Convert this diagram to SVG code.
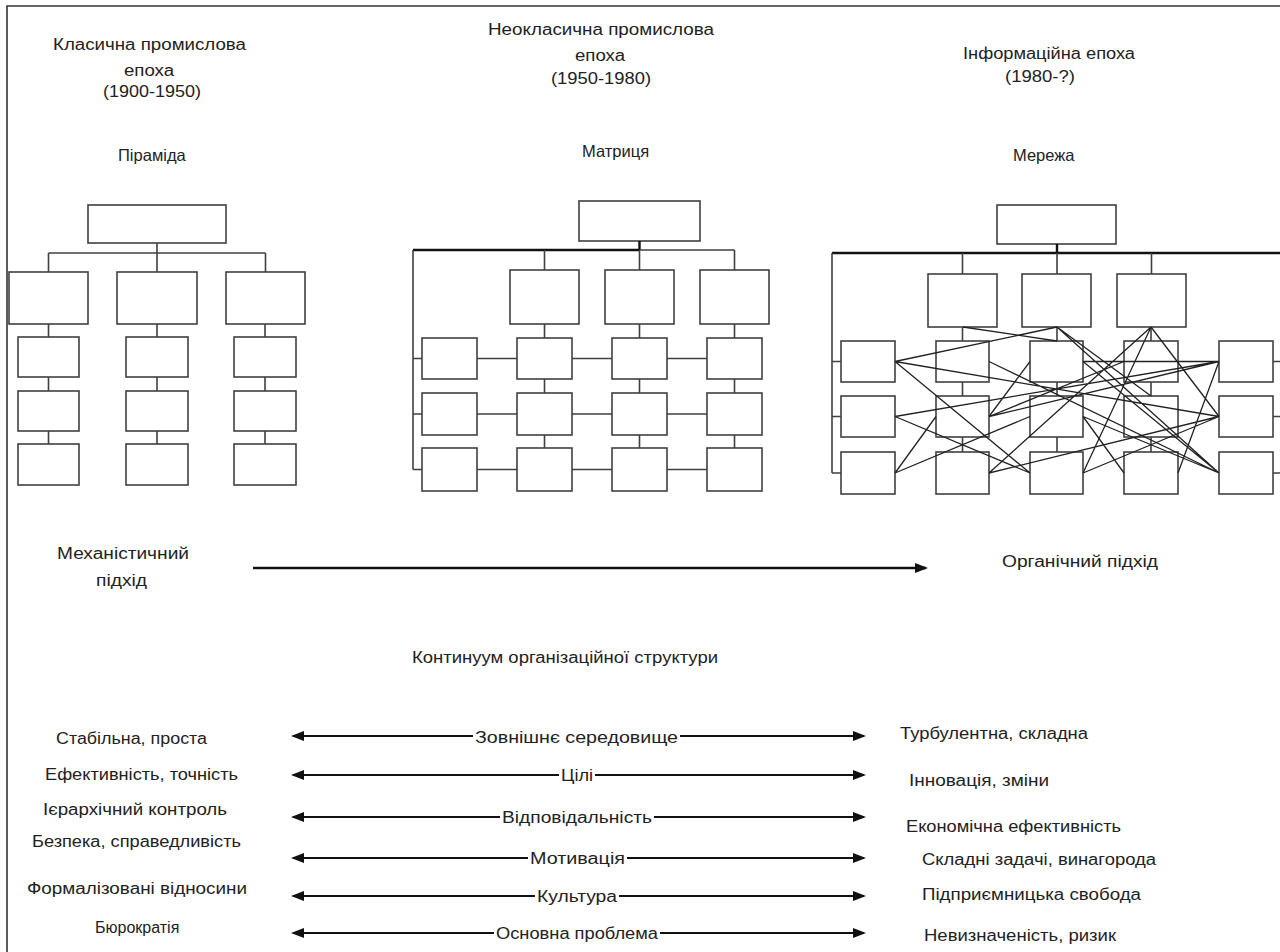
<svg xmlns="http://www.w3.org/2000/svg" width="1280" height="952" viewBox="0 0 1280 952">
<style>
.box{fill:#fff;stroke:#404040;stroke-width:1.6}
.ln{fill:none;stroke:#404040;stroke-width:1.6}
.thick{fill:none;stroke:#111;stroke-width:2.4}
.net{fill:none;stroke:#222;stroke-width:1.3}
.arr{fill:none;stroke:#111;stroke-width:2}
.frame{fill:none;stroke:#333;stroke-width:1.6}
text{font-family:"Liberation Sans",Arial,sans-serif;font-size:16px;fill:#222}
.sm{font-size:16.5px}
</style>
<defs>
<marker id="ah" markerUnits="userSpaceOnUse" viewBox="0 0 13 10" refX="11" refY="5" markerWidth="13" markerHeight="10" orient="auto">
<path d="M0,0 L13,5 L0,10 z" fill="#111"/>
</marker>
</defs>
<rect width="1280" height="952" fill="#fff"/>
<path class="frame" d="M7,960 V6 H1290"/>

<g id="labels">
<text x="53" y="49.5" textLength="193" lengthAdjust="spacingAndGlyphs">Класична промислова</text>
<text x="124" y="75.5" textLength="50" lengthAdjust="spacingAndGlyphs">епоха</text>
<text x="103" y="96.5" textLength="98" lengthAdjust="spacingAndGlyphs">(1900-1950)</text>
<text x="488" y="34.5" textLength="226" lengthAdjust="spacingAndGlyphs">Неокласична промислова</text>
<text x="575" y="60.5" textLength="50" lengthAdjust="spacingAndGlyphs">епоха</text>
<text x="551" y="83.5" textLength="100" lengthAdjust="spacingAndGlyphs">(1950-1980)</text>
<text x="963" y="58.5" textLength="172" lengthAdjust="spacingAndGlyphs">Інформаційна епоха</text>
<text x="1005" y="81.5" textLength="70" lengthAdjust="spacingAndGlyphs">(1980-?)</text>
<text class="sm" x="118" y="160.5">Піраміда</text>
<text class="sm" x="582" y="156.5">Матриця</text>
<text class="sm" x="1013" y="160.5">Мережа</text>
<text x="57" y="558.5" textLength="132" lengthAdjust="spacingAndGlyphs">Механістичний</text>
<text x="96" y="585.5" textLength="51" lengthAdjust="spacingAndGlyphs">підхід</text>
<text x="1002" y="566.5" textLength="156" lengthAdjust="spacingAndGlyphs">Органічний підхід</text>
<text x="412" y="662.5" textLength="306" lengthAdjust="spacingAndGlyphs">Континуум організаційної структури</text>
<text x="56" y="743.5" textLength="151" lengthAdjust="spacingAndGlyphs">Стабільна, проста</text>
<text x="45" y="779.5" textLength="193" lengthAdjust="spacingAndGlyphs">Ефективність, точність</text>
<text x="43" y="814.5" textLength="184" lengthAdjust="spacingAndGlyphs">Ієрархічний контроль</text>
<text x="32" y="846.5" textLength="209" lengthAdjust="spacingAndGlyphs">Безпека, справедливість</text>
<text x="27" y="893.5" textLength="220" lengthAdjust="spacingAndGlyphs">Формалізовані відносини</text>
<text x="95" y="932.5">Бюрократія</text>
<text x="900" y="738.5" textLength="188" lengthAdjust="spacingAndGlyphs">Турбулентна, складна</text>
<text x="909" y="785.5" textLength="140" lengthAdjust="spacingAndGlyphs">Інновація, зміни</text>
<text x="906" y="831.5" textLength="215" lengthAdjust="spacingAndGlyphs">Економічна ефективність</text>
<text x="922" y="864.5" textLength="234" lengthAdjust="spacingAndGlyphs">Складні задачі, винагорода</text>
<text x="922" y="899.5" textLength="219" lengthAdjust="spacingAndGlyphs">Підприємницька свобода</text>
<text x="924" y="940.5" textLength="192" lengthAdjust="spacingAndGlyphs">Невизначеність, ризик</text>
<text x="475" y="742.5" textLength="203" lengthAdjust="spacingAndGlyphs">Зовнішнє середовище</text>
<text x="561" y="780.5" textLength="32" lengthAdjust="spacingAndGlyphs">Цілі</text>
<text x="502" y="822.5" textLength="150" lengthAdjust="spacingAndGlyphs">Відповідальність</text>
<text x="530" y="863.5" textLength="95" lengthAdjust="spacingAndGlyphs">Мотивація</text>
<text x="537" y="901.5" textLength="80" lengthAdjust="spacingAndGlyphs">Культура</text>
<text x="496" y="938.5" textLength="162" lengthAdjust="spacingAndGlyphs">Основна проблема</text>
</g>

<!-- Pyramid nodes -->
<g id="pyramid">
<g id="p-top"><rect class="box" x="88" y="205" width="138" height="38"/></g>
<g id="p-a1"><rect class="box" x="9" y="272" width="79" height="52"/></g>
<g id="p-b1"><rect class="box" x="117" y="272" width="80" height="52"/></g>
<g id="p-c1"><rect class="box" x="226" y="272" width="79" height="52"/></g>
<g id="p-a2"><rect class="box" x="18" y="337" width="61" height="40"/></g>
<g id="p-b2"><rect class="box" x="126" y="337" width="62" height="40"/></g>
<g id="p-c2"><rect class="box" x="234" y="337" width="62" height="40"/></g>
<g id="p-a3"><rect class="box" x="18" y="391" width="61" height="40"/></g>
<g id="p-b3"><rect class="box" x="126" y="391" width="62" height="40"/></g>
<g id="p-c3"><rect class="box" x="234" y="391" width="62" height="40"/></g>
<g id="p-a4"><rect class="box" x="18" y="444" width="61" height="41"/></g>
<g id="p-b4"><rect class="box" x="126" y="444" width="62" height="41"/></g>
<g id="p-c4"><rect class="box" x="234" y="444" width="62" height="41"/></g>
</g>

<!-- Matrix nodes -->
<g id="matrix">
<g id="m-top"><rect class="box" x="579" y="201" width="121" height="40"/></g>
<g id="m-d1"><rect class="box" x="510" y="270" width="69" height="54"/></g>
<g id="m-d2"><rect class="box" x="605" y="270" width="69" height="54"/></g>
<g id="m-d3"><rect class="box" x="700" y="270" width="69" height="54"/></g>
<g id="m-r1c0"><rect class="box" x="422" y="338" width="55" height="41"/></g>
<g id="m-r1c1"><rect class="box" x="517" y="338" width="55" height="41"/></g>
<g id="m-r1c2"><rect class="box" x="612" y="338" width="55" height="41"/></g>
<g id="m-r1c3"><rect class="box" x="707" y="338" width="55" height="41"/></g>
<g id="m-r2c0"><rect class="box" x="422" y="393" width="55" height="42"/></g>
<g id="m-r2c1"><rect class="box" x="517" y="393" width="55" height="42"/></g>
<g id="m-r2c2"><rect class="box" x="612" y="393" width="55" height="42"/></g>
<g id="m-r2c3"><rect class="box" x="707" y="393" width="55" height="42"/></g>
<g id="m-r3c0"><rect class="box" x="422" y="448" width="55" height="43"/></g>
<g id="m-r3c1"><rect class="box" x="517" y="448" width="55" height="43"/></g>
<g id="m-r3c2"><rect class="box" x="612" y="448" width="55" height="43"/></g>
<g id="m-r3c3"><rect class="box" x="707" y="448" width="55" height="43"/></g>
</g>

<!-- Network nodes -->
<g id="network">
<g id="n-top"><rect class="box" x="997" y="205" width="119" height="39"/></g>
<g id="n-d1"><rect class="box" x="928" y="274" width="69" height="53"/></g>
<g id="n-d2"><rect class="box" x="1022" y="274" width="69" height="53"/></g>
<g id="n-d3"><rect class="box" x="1117" y="274" width="69" height="53"/></g>
<g id="n-r1c0"><rect class="box" x="841" y="341" width="54" height="41"/></g>
<g id="n-r1c1"><rect class="box" x="936" y="341" width="53" height="41"/></g>
<g id="n-r1c2"><rect class="box" x="1030" y="341" width="53" height="41"/></g>
<g id="n-r1c3"><rect class="box" x="1124" y="341" width="54" height="41"/></g>
<g id="n-r1c4"><rect class="box" x="1219" y="341" width="54" height="41"/></g>
<g id="n-r2c0"><rect class="box" x="841" y="396" width="54" height="41"/></g>
<g id="n-r2c1"><rect class="box" x="936" y="396" width="53" height="41"/></g>
<g id="n-r2c2"><rect class="box" x="1030" y="396" width="53" height="41"/></g>
<g id="n-r2c3"><rect class="box" x="1124" y="396" width="54" height="41"/></g>
<g id="n-r2c4"><rect class="box" x="1219" y="396" width="54" height="41"/></g>
<g id="n-r3c0"><rect class="box" x="841" y="452" width="54" height="42"/></g>
<g id="n-r3c1"><rect class="box" x="936" y="452" width="53" height="42"/></g>
<g id="n-r3c2"><rect class="box" x="1030" y="452" width="53" height="42"/></g>
<g id="n-r3c3"><rect class="box" x="1124" y="452" width="54" height="42"/></g>
<g id="n-r3c4"><rect class="box" x="1219" y="452" width="54" height="42"/></g>
</g>

<g id="connectors">
<!-- pyramid -->
<path class="ln" d="M157,243 V253 M48.5,253 H265.5 M48.5,253 V272 M157,253 V272 M265.5,253 V272
M48.5,324 V337 M48.5,377 V391 M48.5,431 V444
M157,324 V337 M157,377 V391 M157,431 V444
M265,324 V337 M265,377 V391 M265,431 V444"/>
<!-- matrix -->
<path class="thick" d="M639.5,241 V250 M413,250 H639.5"/>
<path class="ln" d="M639.5,250 H734.5 M544.5,250 V270 M639.5,250 V270 M734.5,250 V270
M413,250 V469.5 M413,358.5 H422 M413,414 H422 M413,469.5 H422
M477,358.5 H517 M572,358.5 H612 M667,358.5 H707
M477,414 H517 M572,414 H612 M667,414 H707
M477,469.5 H517 M572,469.5 H612 M667,469.5 H707
M544.5,324 V338 M544.5,379 V393 M544.5,435 V448
M639.5,324 V338 M639.5,379 V393 M639.5,435 V448
M734.5,324 V338 M734.5,379 V393 M734.5,435 V448"/>
<!-- network -->
<path class="thick" d="M1057,244 V253 M832,253 H1282"/>
<path class="ln" d="M962.5,253 V274 M1151.5,253 V274 M1057,253 V274
M832,253 V473 M832,361.5 H841 M832,416.5 H841 M832,473 H841
M1273,361.5 H1282 M1273,416.5 H1282 M1273,473 H1282
M962.5,327 V341 M962.5,382 V396 M962.5,437 V452
M1057,327 V341 M1057,382 V396 M1057,437 V452
M1151,327 V341 M1151,382 V396 M1151,437 V452"/>
<path class="net" d="M895,361.5 L1057,327
M963,327 L1057,341
M895,361.5 L1219,416.5
M895,361.5 L1030,473
M989,361.5 L1219,473
M895,416.5 L1219,361.5
M895,416.5 L1030,473
M989,416.5 L1030,361.5
M989,416.5 L1219,361.5
M989,416.5 L1124,361.5
M1083,361.5 L1219,361.5
M1083,361.5 L1219,473
M1083,416.5 L1219,473
M1083,473 L1219,416.5
M1151,327 L1083,473
M1151,327 L1219,416.5
M989,473 L1151,327
M1057,327 L1151,396
M1057,327 L1219,473
M895,473 L936,416.5
M895,473 L1030,416.5
M989,473 L1219,416.5
M1083,416.5 L1124,473
M1178,473 L1219,361.5"/>
<!-- main arrow -->
<path class="arr" style="stroke-width:2.6" d="M253,568 H926" marker-end="url(#ah)"/>
<!-- bottom arrows -->
<path class="arr" d="M473,736 H293" marker-end="url(#ah)"/>
<path class="arr" d="M680,736 H864" marker-end="url(#ah)"/>
<path class="arr" d="M559,775 H293" marker-end="url(#ah)"/>
<path class="arr" d="M595,775 H864" marker-end="url(#ah)"/>
<path class="arr" d="M500,817 H293" marker-end="url(#ah)"/>
<path class="arr" d="M654,817 H864" marker-end="url(#ah)"/>
<path class="arr" d="M528,858 H293" marker-end="url(#ah)"/>
<path class="arr" d="M627,858 H864" marker-end="url(#ah)"/>
<path class="arr" d="M535,896 H293" marker-end="url(#ah)"/>
<path class="arr" d="M619,896 H864" marker-end="url(#ah)"/>
<path class="arr" d="M494,933 H293" marker-end="url(#ah)"/>
<path class="arr" d="M660,933 H864" marker-end="url(#ah)"/>
</g>
</svg>
